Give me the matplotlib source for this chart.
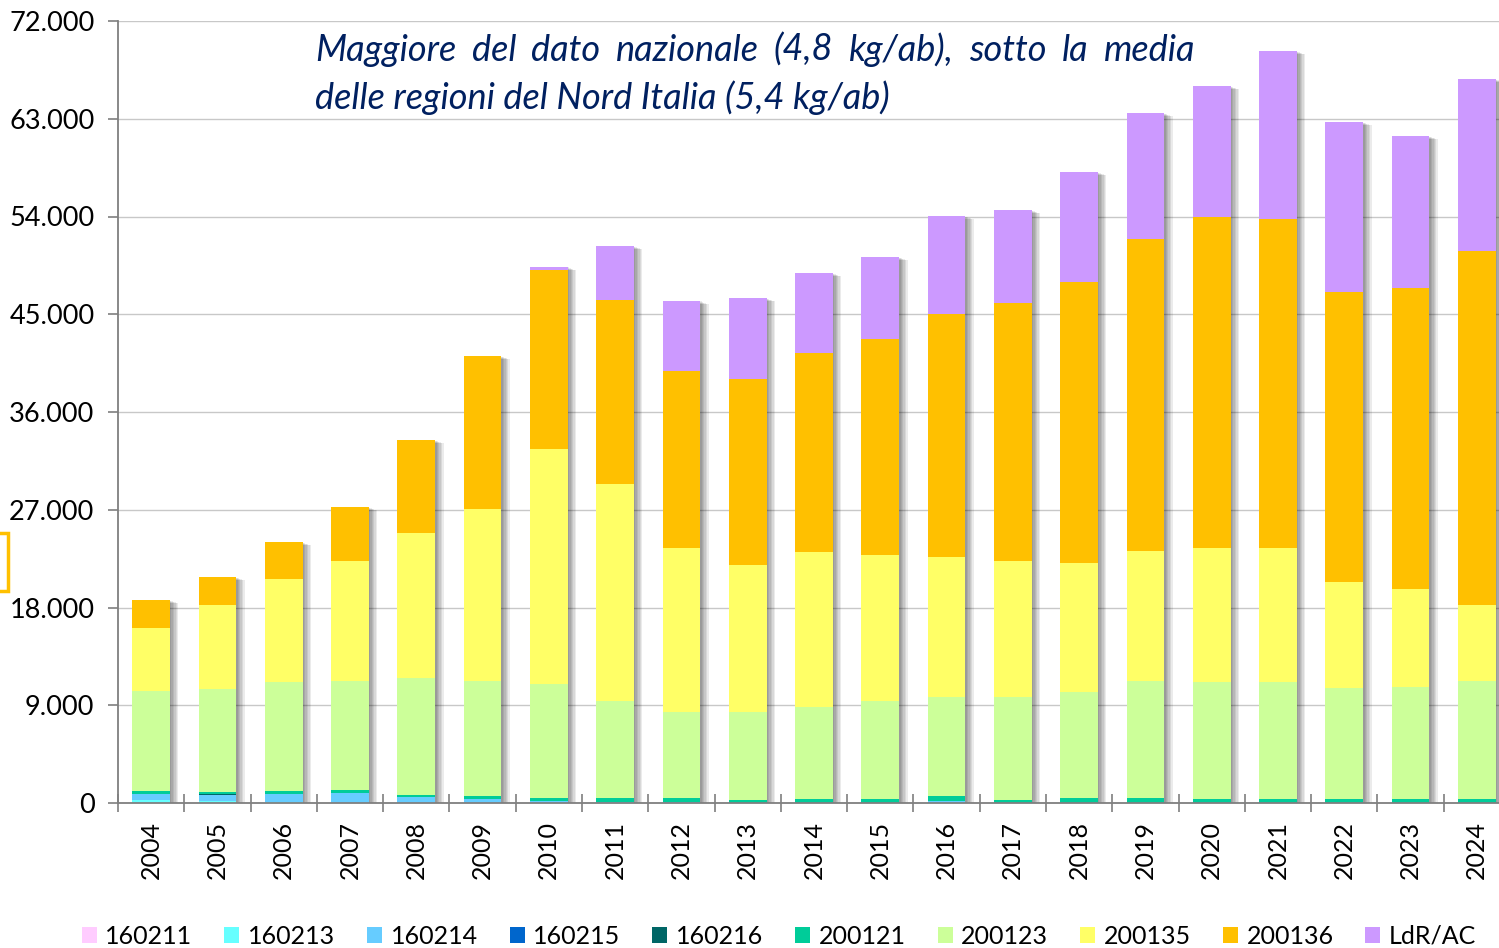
import matplotlib
matplotlib.use("Agg")
import matplotlib.pyplot as plt
import matplotlib.patheffects as pe
from matplotlib.patches import Patch, Rectangle
from matplotlib.ticker import FuncFormatter, FixedLocator
import numpy as np

# data (kg)
years = [str(y) for y in range(2004, 2025)]
series_names = ["160211", "160213", "160214", "160215", "160216",
                "200121", "200123", "200135", "200136", "LdR/AC"]
c160211 = [0] * 21
c160213 = [250, 150, 90, 0, 0, 0, 0, 0, 0, 0, 0, 0, 0, 0, 0, 0, 0, 0, 0, 0, 0]
c160214 = [600, 600, 770, 920, 550, 370, 180, 90, 60, 0, 0, 0, 180, 0, 0, 0, 0, 0, 0, 0, 0]
c160215 = [0] * 21
c160216 = [0, 100, 0, 0, 0, 0, 0, 0, 0, 0, 0, 0, 0, 0, 0, 0, 0, 0, 0, 0, 0]
c200121 = [250, 180, 215, 245, 215, 300, 280, 340, 370, 300, 340, 400, 430, 300, 430,
           460, 340, 370, 340, 340, 340]
c200123 = [9200, 9470, 10070, 10070, 10740, 10560, 10500, 8960, 7950, 8080, 8500, 8990,
           9150, 9460, 9790, 10770, 10800, 10770, 10250, 10340, 10890]
c200135 = [5800, 7730, 9480, 11050, 13350, 15840, 21640, 19980, 15100, 13540, 14270, 13440,
           12890, 12520, 11880, 11970, 12340, 12340, 9760, 9020, 7000]
c200136 = [2580, 2580, 3410, 4970, 8560, 14090, 16480, 16940, 16300, 17120, 18320, 19890,
           22370, 23750, 25870, 28730, 30480, 30290, 26700, 27710, 32590]
c_ldr = [0, 0, 0, 0, 0, 0, 280, 4970, 6450, 7460, 7370, 7550, 9020, 8560, 10130, 11600,
         12060, 15470, 15650, 14000, 15840]

series = [c160211, c160213, c160214, c160215, c160216, c200121, c200123, c200135, c200136, c_ldr]
colors = ["#FFCCFF", "#66FFFF", "#66CCFF", "#0066CC", "#006666",
          "#00CC99", "#CCFF99", "#FFFF66", "#FFC000", "#CC99FF"]

plt.rcParams['font.family'] = ['Lato', 'DejaVu Sans']

W, H = 1499, 948
fig = plt.figure(figsize=(W / 100, H / 100), dpi=100)
# plot area: y axis at x=118px, 0 at y=803px, 72000 at y=21px; axis runs past right edge
ax = fig.add_axes([118 / W, (H - 803) / H, (1510 - 118) / W, (803 - 21) / H])

x = np.arange(len(years))
bw = 0.57
totals = np.sum(np.array(series), axis=0)

# grey drop shadow under each stacked bar
shadow = [pe.SimplePatchShadow(offset=(o, -o * 0.4), shadow_rgbFace="#000000", alpha=0.08)
          for o in (1.0, 2.0, 3.0, 4.0, 5.0, 6.0)]
ax.bar(x, totals, bw, color="white", zorder=2, path_effects=shadow + [pe.Normal()])

bottom = np.zeros(len(years))
for vals, col in zip(series, colors):
    ax.bar(x, vals, bw, bottom=bottom, color=col, zorder=3, linewidth=0)
    bottom += np.array(vals)

ax.set_xlim(-0.5, 20.5)
ax.set_ylim(0, 72000)
ax.set_yticks(np.arange(0, 72001, 9000))
ax.yaxis.set_major_formatter(FuncFormatter(lambda v, p: f"{v:,.0f}".replace(",", ".")))
ax.grid(axis="y", color="#C8C8C8", linewidth=1.0, zorder=0)
ax.set_axisbelow(True)

ax.set_xticks(x)
ax.set_xticklabels(years, rotation=90)
ax.xaxis.set_minor_locator(FixedLocator(np.arange(-0.5, 21, 1)))
ax.tick_params(axis="x", which="major", length=0, pad=13, labelsize=18)
ax.tick_params(axis="x", which="minor", length=13, direction="inout", color="#7F7F7F", width=1.2)
ax.tick_params(axis="y", length=7, color="#7F7F7F", width=1.2, labelsize=19.5, pad=10)

for s in ("top", "right"):
    ax.spines[s].set_visible(False)
for s in ("left", "bottom"):
    ax.spines[s].set_color("#7F7F7F")
    ax.spines[s].set_linewidth(1.3)
    ax.spines[s].set_zorder(4)

# annotation, first line justified between x=315 and x=1195 px
navy = "#002060"
line1 = "Maggiore del dato nazionale (4,8 kg/ab), sotto la media".split()
line2 = "delle regioni del Nord Italia (5,4 kg/ab)"
fs = 26
fig.canvas.draw()
r = fig.canvas.get_renderer()
words = [fig.text(0, (H - 61) / H, w, fontsize=fs, style="italic", color=navy, va="baseline")
         for w in line1]
widths = [t.get_window_extent(r).width for t in words]
gap = (1195 - 315 - sum(widths)) / (len(words) - 1)
pos = 315
for t, wd in zip(words, widths):
    t.set_x(pos / W)
    pos += wd + gap
fig.text(315 / W, (H - 109) / H, line2, fontsize=fs, style="italic", color=navy, va="baseline")

# legend at bottom
handles = [Patch(facecolor=c, edgecolor="none") for c in colors]
fig.legend(handles, series_names, loc="center", bbox_to_anchor=(779 / W, (H - 936) / H),
           ncol=10, frameon=False, fontsize=18, handlelength=0.6, handleheight=0.6,
           handletextpad=0.35, columnspacing=1.27, borderaxespad=0)

# partial orange selection box at left edge
fig.add_artist(Rectangle((-20 / W, (H - 591) / H), 28 / W, 58 / H, transform=fig.transFigure,
                         fill=False, edgecolor="#FFC000", linewidth=2.5))

fig.savefig("out.png", dpi=100)
